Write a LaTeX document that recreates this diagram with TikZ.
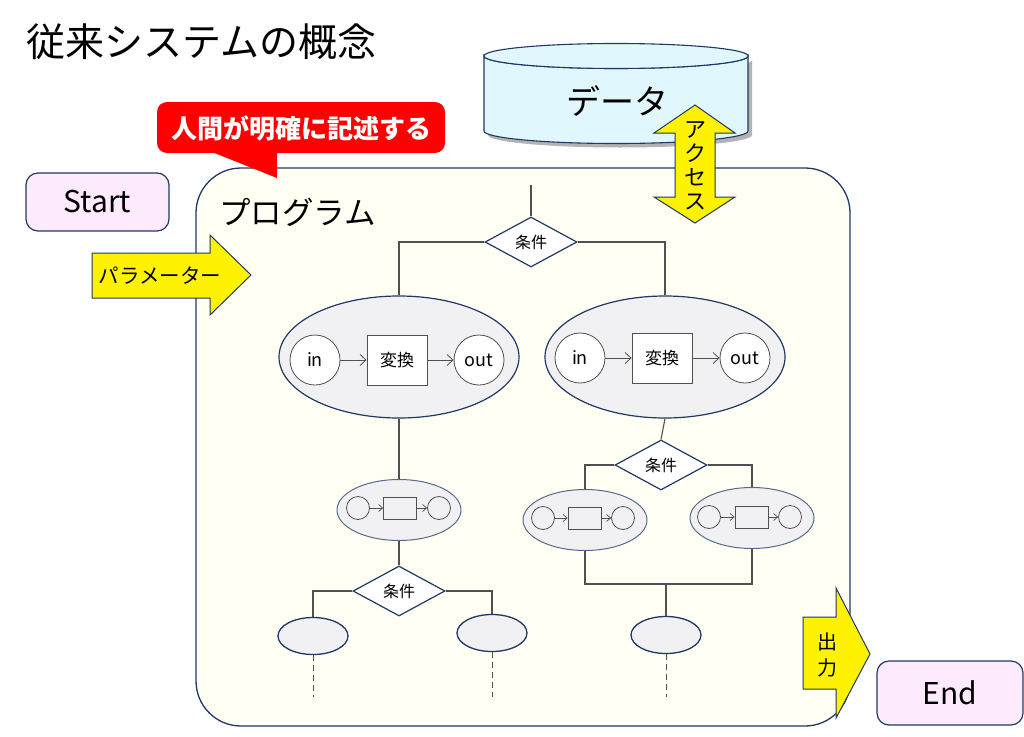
\documentclass[tikz,border=0pt]{standalone}
\usepackage{fontspec}
\setmainfont{Noto Sans CJK JP}
\usetikzlibrary{shapes.geometric,arrows.meta,shadows}
\definecolor{navy}{HTML}{1F3864}
\definecolor{linegray}{HTML}{505050}
\definecolor{ellgray}{HTML}{F1F1F3}
\definecolor{progfill}{HTML}{FFFFF3}
\definecolor{pinkfill}{HTML}{FDEAFD}
\definecolor{cyanfill}{HTML}{E0F8FD}
\definecolor{callred}{HTML}{FF0000}
\begin{document}
\begin{tikzpicture}[x=1pt,y=-1pt,
  flow/.style={draw=linegray, line width=1.1pt},
  cond/.style={diamond, draw=navy, fill=white, line width=1.2pt, aspect=1.8, inner sep=1pt, minimum width=92pt, minimum height=50pt, font=\fontsize{16}{16}\selectfont},
  bigell/.style={ellipse, draw=navy, fill=ellgray, line width=1.2pt, minimum width=240pt, minimum height=122pt, inner sep=0pt},
  smallell/.style={ellipse, draw=navy!75, fill=ellgray, line width=1pt, minimum width=124pt, minimum height=61pt, inner sep=0pt},
  leaf/.style={ellipse, draw=navy, fill=ellgray, line width=1.3pt, minimum width=70pt, minimum height=37pt, inner sep=0pt},
  io/.style={circle, draw=linegray, fill=white, line width=0.8pt, minimum size=50pt, inner sep=0pt, font=\fontsize{18}{18}\selectfont},
  proc/.style={rectangle, draw=linegray, fill=white, line width=0.8pt, minimum width=60pt, minimum height=50pt, inner sep=0pt, font=\fontsize{17}{17}\selectfont},
  sio/.style={circle, draw=linegray, fill=ellgray, line width=0.8pt, minimum size=23pt, inner sep=0pt},
  sproc/.style={rectangle, draw=linegray, fill=ellgray, line width=0.8pt, minimum width=33pt, minimum height=22pt, inner sep=0pt},
  bigarr/.style={draw=linegray, line width=0.8pt, -{Straight Barb[length=6pt,width=11pt]}},
  smallarr/.style={draw=linegray, line width=0.7pt, -{Straight Barb[length=4pt,width=7pt]}},
  termbox/.style={rectangle, rounded corners=12pt, draw=navy, fill=pinkfill, line width=1.2pt, font=\fontsize{30}{30}\selectfont},
  yarrow/.style={fill=yellow, draw=navy, line width=1pt, line join=miter},
  leafdash/.style={draw=linegray, line width=1pt, dash pattern=on 6pt off 4pt}
]
\useasboundingbox (0,0) rectangle (1024,736);

% title
\node[anchor=west, inner sep=0pt, font=\fontsize{39}{39}\selectfont] (title) at (26,42) {従来システムの概念};

% program frame
\draw[navy, fill=progfill, line width=1.3pt, rounded corners=45pt] (196,168) rectangle (850,726);
\node[anchor=west, inner sep=0pt, font=\fontsize{31.5}{31.5}\selectfont] (prog) at (219,212) {プログラム};

% callout
\fill[callred, rounded corners=10pt] (157,102) rectangle (445,153);
\fill[callred] (207,150) -- (277,150) -- (277,178) -- cycle;
\node[text=white, font=\bfseries\fontsize{26}{26}\selectfont, inner sep=0pt] (call) at (301,128) {人間が明確に記述する};

% start / end
\node[termbox, minimum width=143pt, minimum height=58pt] (start) at (97.5,202) {Start};
\node[termbox, minimum width=146pt, minimum height=64pt] (end) at (950,693) {End};

% data cylinder
\path[fill=cyanfill, draw=navy, line width=1.1pt, drop shadow={shadow xshift=4pt, shadow yshift=-4pt, opacity=0.6}]
  (484,56) -- (484,131) arc[start angle=180, end angle=0, x radius=132, y radius=12.5] -- (748,56) arc[start angle=0, end angle=180, x radius=132, y radius=12.5] -- cycle;
\draw[navy, fill=cyanfill, line width=1.1pt] (616,56) ellipse[x radius=132, y radius=12.5];
\node[font=\fontsize{34}{34}\selectfont, inner sep=0pt] (data) at (617,101) {データ};

% access arrow
\draw[yarrow] (695,105) -- (735,133) -- (715,133) -- (715,197) -- (735,197) -- (695,223) -- (654,197) -- (675,197) -- (675,133) -- (654,133) -- cycle;
\node[align=center, inner sep=0pt, font=\fontsize{22}{24}\selectfont] (acc) at (695,166) {ア\\ク\\セ\\ス};

% parameter arrow
\draw[yarrow] (92,253) -- (210,253) -- (210,235) -- (251,275) -- (210,315) -- (210,298) -- (92,298) -- cycle;
\node[inner sep=0pt, font=\fontsize{20.5}{20.5}\selectfont] (param) at (160,276) {パラメーター};

% output arrow
\draw[yarrow] (803,617) -- (836,617) -- (836,588) -- (870,654) -- (836,718) -- (836,689) -- (803,689) -- cycle;
\node[align=center, inner sep=0pt, font=\fontsize{20}{26}\selectfont] (out) at (827,655) {出\\力};

% flowchart nodes
\coordinate (top) at (531,185);
\node[cond] (D1) at (531,242) {条件};
\node[bigell] (E1) at (399,357) {};
\node[bigell] (E2) at (665,357) {};
\node[io] (in1) at (315,360) {in};
\node[proc] (p1) at (397,360) {変換};
\node[io] (out1) at (479,360) {out};
\node[io] (in2) at (580,358) {in};
\node[proc] (p2) at (662,358) {変換};
\node[io] (out2) at (745,358) {out};
\draw[bigarr] (in1) -- (p1);
\draw[bigarr] (p1) -- (out1);
\draw[bigarr] (in2) -- (p2);
\draw[bigarr] (p2) -- (out2);

\node[smallell] (S1) at (399,510) {};
\node[sio] (s1a) at (358,508) {};
\node[sproc] (s1b) at (400,508) {};
\node[sio] (s1c) at (439,508) {};
\draw[smallarr] (s1a) -- (s1b);
\draw[smallarr] (s1b) -- (s1c);

\node[cond] (D3) at (661,465) {条件};
\node[smallell] (S2) at (585,520) {};
\node[sio] (s2a) at (543,518) {};
\node[sproc] (s2b) at (584.5,518) {};
\node[sio] (s2c) at (623,518) {};
\draw[smallarr] (s2a) -- (s2b);
\draw[smallarr] (s2b) -- (s2c);
\node[smallell] (S3) at (752,518) {};
\node[sio] (s3a) at (709,517) {};
\node[sproc] (s3b) at (751.5,517) {};
\node[sio] (s3c) at (790,517) {};
\draw[smallarr] (s3a) -- (s3b);
\draw[smallarr] (s3b) -- (s3c);

\node[cond] (D2) at (399,591) {条件};
\node[leaf] (L1) at (313,636) {};
\node[leaf] (L2) at (492,633) {};
\node[leaf] (L3) at (666,635) {};

\coordinate (jL) at (585,584);
\coordinate (jR) at (752,584);
\coordinate (jM) at (666,584);
\coordinate (t1) at (313,697);
\coordinate (t2) at (492,697);
\coordinate (t3) at (666,697);

% flow lines
\draw[flow] (top) -- (D1.north);
\draw[flow] (D1.west) -| (E1.north);
\draw[flow] (D1.east) -| (E2.north);
\draw[flow] (E1.south) -- (S1.north);
\draw[flow] (S1.south) -- (D2.north);
\draw[flow] (D2.west) -| (L1.north);
\draw[flow] (D2.east) -| (L2.north);
\draw[flow] (E2.south) -- (D3.north);
\draw[flow] (D3.west) -| (S2.north);
\draw[flow] (D3.east) -| (S3.north);
\draw[flow] (S2.south) -- (jL) -- (jR) -- (S3.south);
\draw[flow] (jM) -- (L3.north);
\draw[leafdash] (L1.south) -- (t1);
\draw[leafdash] (L2.south) -- (t2);
\draw[leafdash] (L3.south) -- (t3);
\end{tikzpicture}
\end{document}
